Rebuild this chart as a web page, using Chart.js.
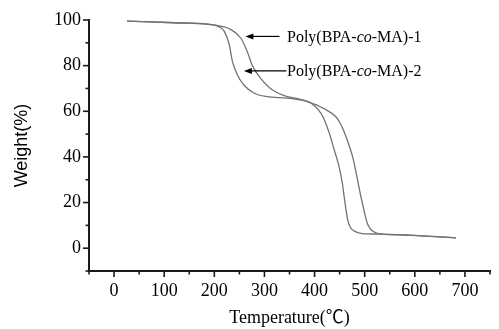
<!DOCTYPE html>
<html>
<head>
<meta charset="utf-8">
<script src="https://cdn.jsdelivr.net/npm/chart.js@4/dist/chart.umd.min.js"></script>
<style>
html,body{margin:0;padding:0;background:#fff;}
#wrap{width:499px;height:329px;position:relative;}
</style>
</head>
<body>
<div id="wrap"><canvas id="c" width="499" height="329"></canvas></div>
<script>
// ---- data ----
const seriesNames = ["Poly(BPA-co-MA)-1", "Poly(BPA-co-MA)-2"];
const temp1   = [26, 121, 194, 215, 233, 253, 266, 276, 292, 312, 338, 364, 380, 394, 420, 443, 453, 463, 476, 486, 492, 499, 505, 512, 520, 532, 587, 682];
const weight1 = [99.5, 98.8, 98, 97.2, 95.8, 92, 86, 80, 74.5, 70, 67, 65.6, 64.8, 63.6, 61, 57.5, 54, 48.7, 40, 29.6, 23, 16.3, 11, 8.3, 7, 6.3, 5.7, 4.5];
const temp2   = [26, 121, 194, 210, 220, 230, 236, 246, 259, 279, 305, 345, 380, 394, 408, 417, 430, 440, 448, 455, 460, 466, 471, 478, 495, 528, 587, 682];
const weight2 = [99.5, 98.8, 98, 97, 95, 89, 82, 76, 71.5, 68, 66.4, 65.8, 64.6, 63.4, 60.5, 57.5, 50, 42.5, 36.5, 29, 21, 12.5, 9.3, 7.7, 6.4, 6.2, 5.7, 4.5];
const xTicks = [0, 100, 200, 300, 400, 500, 600, 700];
const yTicks = [0, 20, 40, 60, 80, 100];
// label anchors in data units: [arrow tail T, arrow head T, W]
const label1Anchor = [330, 262, 92.8];
const label2Anchor = [344, 259, 77.7];

const lineColor = '#727272';
const axisColor = '#1a1a1a';

function pts(xs, ys){ return xs.map((x,i)=>({x:x, y:ys[i]})); }

const tickPlugin = {
  id: 'ticksAndLabels',
  afterDraw(chart){
    const ctx = chart.ctx;
    const xs = chart.scales.x, ys = chart.scales.y;
    const ca = chart.chartArea;
    ctx.save();
    ctx.strokeStyle = axisColor;
    ctx.lineWidth = 1.6;
    xs.ticks.forEach(t=>{
      const p = xs.getPixelForValue(t.value);
      const major = xTicks.includes(t.value);
      ctx.beginPath();
      ctx.moveTo(p, ca.bottom);
      ctx.lineTo(p, ca.bottom + (major ? 6 : 3.5));
      ctx.stroke();
    });
    ys.ticks.forEach(t=>{
      const p = ys.getPixelForValue(t.value);
      const major = yTicks.includes(t.value);
      ctx.beginPath();
      ctx.moveTo(ca.left, p);
      ctx.lineTo(ca.left - (major ? 6 : 3.5), p);
      ctx.stroke();
    });
    // annotations with arrows
    function label(anchor, name){
      const x0 = xs.getPixelForValue(anchor[0]);
      const x1 = xs.getPixelForValue(anchor[1]);
      const y = ys.getPixelForValue(anchor[2]);
      ctx.strokeStyle = '#000';
      ctx.fillStyle = '#000';
      ctx.lineWidth = 1.2;
      ctx.beginPath();
      ctx.moveTo(x0, y);
      ctx.lineTo(x1 + 6, y);
      ctx.stroke();
      ctx.beginPath();
      ctx.moveTo(x1, y);
      ctx.lineTo(x1 + 8, y - 3);
      ctx.lineTo(x1 + 8, y + 3);
      ctx.closePath();
      ctx.fill();
      // text with italic "co"
      const parts = name.split('co');
      const normal = '16px "Liberation Serif", "Times New Roman", serif';
      const italic = 'italic 16px "Liberation Serif", "Times New Roman", serif';
      ctx.textBaseline = 'middle';
      ctx.textAlign = 'left';
      let tx = xs.getPixelForValue(label2Anchor[0]) + 0.5;
      ctx.font = normal; ctx.fillText(parts[0], tx, y + 1); tx += ctx.measureText(parts[0]).width;
      ctx.font = italic; ctx.fillText('co', tx, y + 1); tx += ctx.measureText('co').width;
      ctx.font = normal; ctx.fillText(parts[1], tx, y + 1);
    }
    label(label1Anchor, seriesNames[0]);
    label(label2Anchor, seriesNames[1]);
    ctx.restore();
  }
};

new Chart(document.getElementById('c'), {
  type: 'line',
  data: {
    datasets: [
      { label: seriesNames[0], data: pts(temp1, weight1), borderColor: lineColor, borderWidth: 1.3, pointRadius: 0, fill: false, cubicInterpolationMode: 'monotone' },
      { label: seriesNames[1], data: pts(temp2, weight2), borderColor: lineColor, borderWidth: 1.3, pointRadius: 0, fill: false, cubicInterpolationMode: 'monotone' }
    ]
  },
  options: {
    responsive: false,
    animation: false,
    devicePixelRatio: 1,
    layout: { padding: { left: 0, right: 2, top: 20, bottom: 0 } },
    plugins: { legend: { display: false }, tooltip: { enabled: false } },
    scales: {
      x: {
        type: 'linear', min: -50, max: 750,
        grid: { display: true, drawOnChartArea: false, drawTicks: false },
        border: { display: true, color: axisColor, width: 2 },
        ticks: {
          stepSize: 50, autoSkip: false, maxRotation: 0, padding: 9, color: '#000',
          font: { family: '"Liberation Serif", "Times New Roman", serif', size: 18 },
          callback: v => xTicks.includes(v) ? String(v) : ''
        },
        title: { display: true, text: 'Temperature(℃)', color: '#000',
          font: { family: '"Liberation Serif", "Noto Sans CJK SC", serif', size: 18 },
          padding: { top: 0, bottom: 0 } },
        afterFit: s => { s.height = 58; }
      },
      y: {
        type: 'linear', min: -10, max: 100,
        grid: { display: true, drawOnChartArea: false, drawTicks: false },
        border: { display: true, color: axisColor, width: 2 },
        ticks: {
          stepSize: 10, autoSkip: false, padding: 8, color: '#000',
          font: { family: '"Liberation Serif", "Times New Roman", serif', size: 18 },
          callback: v => yTicks.includes(v) ? String(v) : ''
        },
        title: { display: true, text: 'Weight(%)', color: '#000',
          font: { family: '"Liberation Sans", Arial, sans-serif', size: 18 },
          padding: { top: 11, bottom: 0 } },
        afterFit: s => { s.width = 89; }
      }
    }
  },
  plugins: [tickPlugin]
});
</script>
</body>
</html>
